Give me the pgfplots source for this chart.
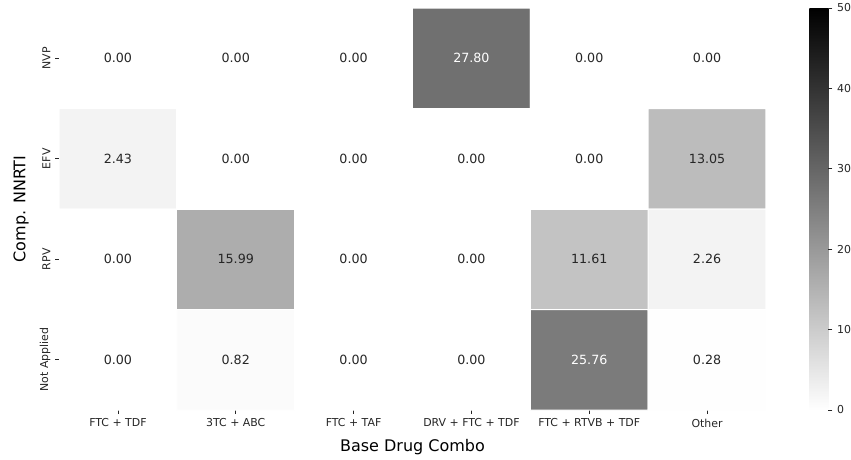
\documentclass[border=0pt]{standalone}
\usepackage{pgfplots}
\pgfplotsset{compat=1.18}
\usepackage{pgfplotstable}
\usepackage{fontspec}
\setmainfont{DejaVu Sans}
\definecolor{textdark}{HTML}{262626}
\pgfplotsset{/pgf/number format/assume math mode=true}
\pgfplotstableread{
x y v
0 0 0.00
1 0 0.00
2 0 0.00
3 0 27.80
4 0 0.00
5 0 0.00
0 1 2.43
1 1 0.00
2 1 0.00
3 1 0.00
4 1 0.00
5 1 13.05
0 2 0.00
1 2 15.99
2 2 0.00
3 2 0.00
4 2 11.61
5 2 2.26
0 3 0.00
1 3 0.82
2 3 0.00
3 3 0.00
4 3 25.76
5 3 0.28
}\datatable
\begin{document}
\begin{tikzpicture}
\useasboundingbox (0,0) rectangle (638.25pt,345pt);
\begin{axis}[
  scale only axis, width=530.25pt, height=301.5pt,
  at={(44.25pt,37.5pt)}, anchor=south west,
  xmin=-0.5, xmax=5.5, ymin=-0.5, ymax=3.5, y dir=reverse,
  axis line style={draw=none},
  xtick={0,...,5},
  xticklabels={FTC + TDF, 3TC + ABC, FTC + TAF, DRV + FTC + TDF, FTC + RTVB + TDF, Other},
  ytick={0,...,3},
  yticklabels={NVP, EFV, RPV, Not Applied},
  xtick pos=left, ytick pos=left,
  tick align=outside, major tick length=3pt,
  tick style={textdark, line width=0.6pt},
  ticklabel style={font=\fontsize{8.2}{9.8}\selectfont, text=textdark},
  yticklabel style={rotate=90, anchor=south},
  xlabel={Base Drug Combo}, ylabel={Comp. NNRTI},
  label style={font=\fontsize{12}{14}\selectfont, text=black},
  xlabel style={at={([yshift=-27.75pt]axis description cs:0.5,0)}, anchor=center},
  ylabel style={at={([xshift=-28.5pt]axis description cs:0,0.5)}, anchor=center},
  colormap={bw}{color=(white) color=(black)},
  point meta min=0, point meta max=50,
  colorbar,
  colorbar style={
    at={(parent axis.north east)}, anchor=north west, xshift=24pt,
    scale only axis, width=14.25pt, height=301.5pt,
    ytick={0,10,20,30,40,50},
    axis line style={draw=none},
    ytick pos=right, yticklabel pos=right, tick align=outside, major tick length=3pt,
    tick style={textdark, line width=0.6pt},
    yticklabel style={font=\fontsize{8.2}{9.8}\selectfont, text=textdark},
  },
]
\addplot[matrix plot*, mesh/cols=6, point meta=explicit, shader=faceted, faceted color=white, line width=0.75pt]
  table[x=x, y=y, meta=v] {\datatable};
\addplot[draw=none, mark=none, point meta=explicit,
  visualization depends on={\thisrow{v}\as\val},
  every node near coord/.append style={anchor=center, font=\fontsize{9.5}{11}\selectfont},
  nodes near coords={\ifdim\val pt>20pt\color{white}\else\color{textdark}\fi\pgfmathprintnumber[fixed,fixed zerofill,precision=2]{\val}}]
  table[x=x, y=y, meta=v] {\datatable};
\end{axis}
\end{tikzpicture}
\end{document}
